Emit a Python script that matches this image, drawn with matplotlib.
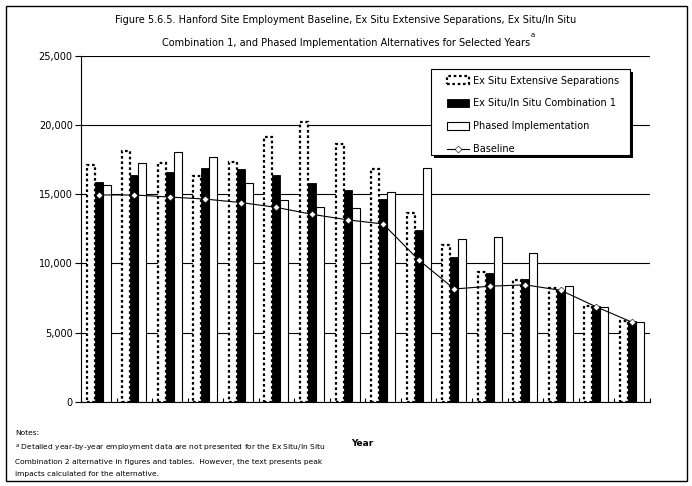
import matplotlib
matplotlib.use("Agg")
import matplotlib.pyplot as plt
from matplotlib.patches import Rectangle
from matplotlib.ticker import FuncFormatter
import numpy as np

plt.rcParams['font.family'] = ['DejaVu Sans']

# values, one per selected year (16 groups, years not labelled)
ex_situ_extensive = [17100, 18150, 17250, 16350, 17350, 19150, 20250, 18600,
                     16800, 13650, 11300, 9400, 8800, 8250, 6950, 5850]
ex_in_situ_comb1 = [15900, 16400, 16600, 16900, 16850, 16400, 15850, 15300,
                    14650, 12450, 10450, 9300, 8900, 8100, 6950, 5800]
phased_impl = [15700, 17250, 18050, 17700, 15800, 14550, 14100, 14000,
               15150, 16900, 11750, 11900, 10750, 8350, 6850, 5750]
baseline = [14950, 14950, 14800, 14650, 14400, 14050, 13550, 13150,
            12850, 10250, 8150, 8350, 8450, 8050, 6850, 5750]

series_labels = ["Ex Situ Extensive Separations", "Ex Situ/In Situ Combination 1",
                 "Phased Implementation", "Baseline"]
y_ticks = [0, 5000, 10000, 15000, 20000, 25000]

W, H = 692, 486
fig = plt.figure(figsize=(W / 100, H / 100), dpi=100)
ax = fig.add_axes([0.117, 0.1735, 0.822, 0.7113])

n = len(baseline)
x = np.arange(n) + 0.5
w = 0.225

b1 = ax.bar(x - w, ex_situ_extensive, w, facecolor='white', edgecolor='black',
            linewidth=1.6, linestyle=(0, (1.2, 1.2)), zorder=2)
b2 = ax.bar(x, ex_in_situ_comb1, w, facecolor='black', edgecolor='black',
            linewidth=0.6, zorder=3)
b3 = ax.bar(x + w, phased_impl, w, facecolor='white', edgecolor='black',
            linewidth=0.8, zorder=2)
ln, = ax.plot(x, baseline, color='black', linewidth=0.8, marker='D',
              markersize=3.5, markerfacecolor='white', markeredgecolor='black',
              markeredgewidth=0.4, zorder=4)

ax.set_xlim(0, n)
ax.set_ylim(0, 25000)
ax.set_yticks(y_ticks)
ax.yaxis.set_major_formatter(FuncFormatter(lambda v, p: f"{int(v):,}"))
ax.set_xticks(np.arange(n + 1))
ax.set_xticklabels([])
ax.tick_params(axis='x', direction='in', length=3, width=0.8)
ax.tick_params(axis='y', direction='out', length=4, width=0.8, labelsize=7, pad=2)
for s in ['top', 'right']:
    ax.spines[s].set_visible(False)
for s in ['left', 'bottom']:
    ax.spines[s].set_linewidth(0.8)
ax.yaxis.grid(True, color='black', linewidth=0.8)
ax.set_axisbelow(True)

# legend box with a hard drop shadow, drawn in pixel units of the figure
def px_rect(x0, y0, x1, y1, **kw):
    return Rectangle((x0 / W, 1 - y1 / H), (x1 - x0) / W, (y1 - y0) / H,
                     transform=fig.transFigure, **kw)

fig.patches.append(px_rect(434, 72, 633, 158, facecolor='black', edgecolor='none', zorder=5))
fig.patches.append(px_rect(431, 69, 630, 155, facecolor='white', edgecolor='black',
                           linewidth=0.8, zorder=6))

leg = fig.legend([b1, b2, b3, ln], series_labels, loc='upper left',
                 bbox_to_anchor=(447 / W, 1 - 75.5 / H), bbox_transform=fig.transFigure,
                 fontsize=7, frameon=False, labelspacing=1.33,
                 handlelength=2.3, handleheight=0.9, borderpad=0,
                 borderaxespad=0, handletextpad=0.35)
leg.set_zorder(7)

fig.text(0.5, 1 - 20 / H, "Figure 5.6.5. Hanford Site Employment Baseline, Ex Situ Extensive "
         "Separations, Ex Situ/In Situ", ha='center', va='center', fontsize=7)
fig.text(0.5, 1 - 43 / H, "Combination 1, and Phased Implementation Alternatives for "
         "Selected Years", ha='center', va='center', fontsize=7)
fig.text(531 / W, 1 - 35 / H, "a", ha='left', va='center', fontsize=5)

fig.text(362 / W, 1 - 443 / H, "Year", ha='center', va='center', fontsize=6.5,
         fontweight='bold')

notes = ["Notes:",
         "$^{a}$ Detailed year-by-year employment data are not presented for the Ex Situ/In Situ",
         "Combination 2 alternative in figures and tables.  However, the text presents peak",
         "impacts calculated for the alternative."]
note_y = [433, 449, 462, 474]
for t, yy in zip(notes, note_y):
    fig.text(15 / W, 1 - yy / H, t, ha='left', va='center', fontsize=5.4)

fig.patches.append(px_rect(6, 6, 687, 481, fill=False, edgecolor='black', linewidth=1.0))

fig.savefig("out.png", dpi=100)
